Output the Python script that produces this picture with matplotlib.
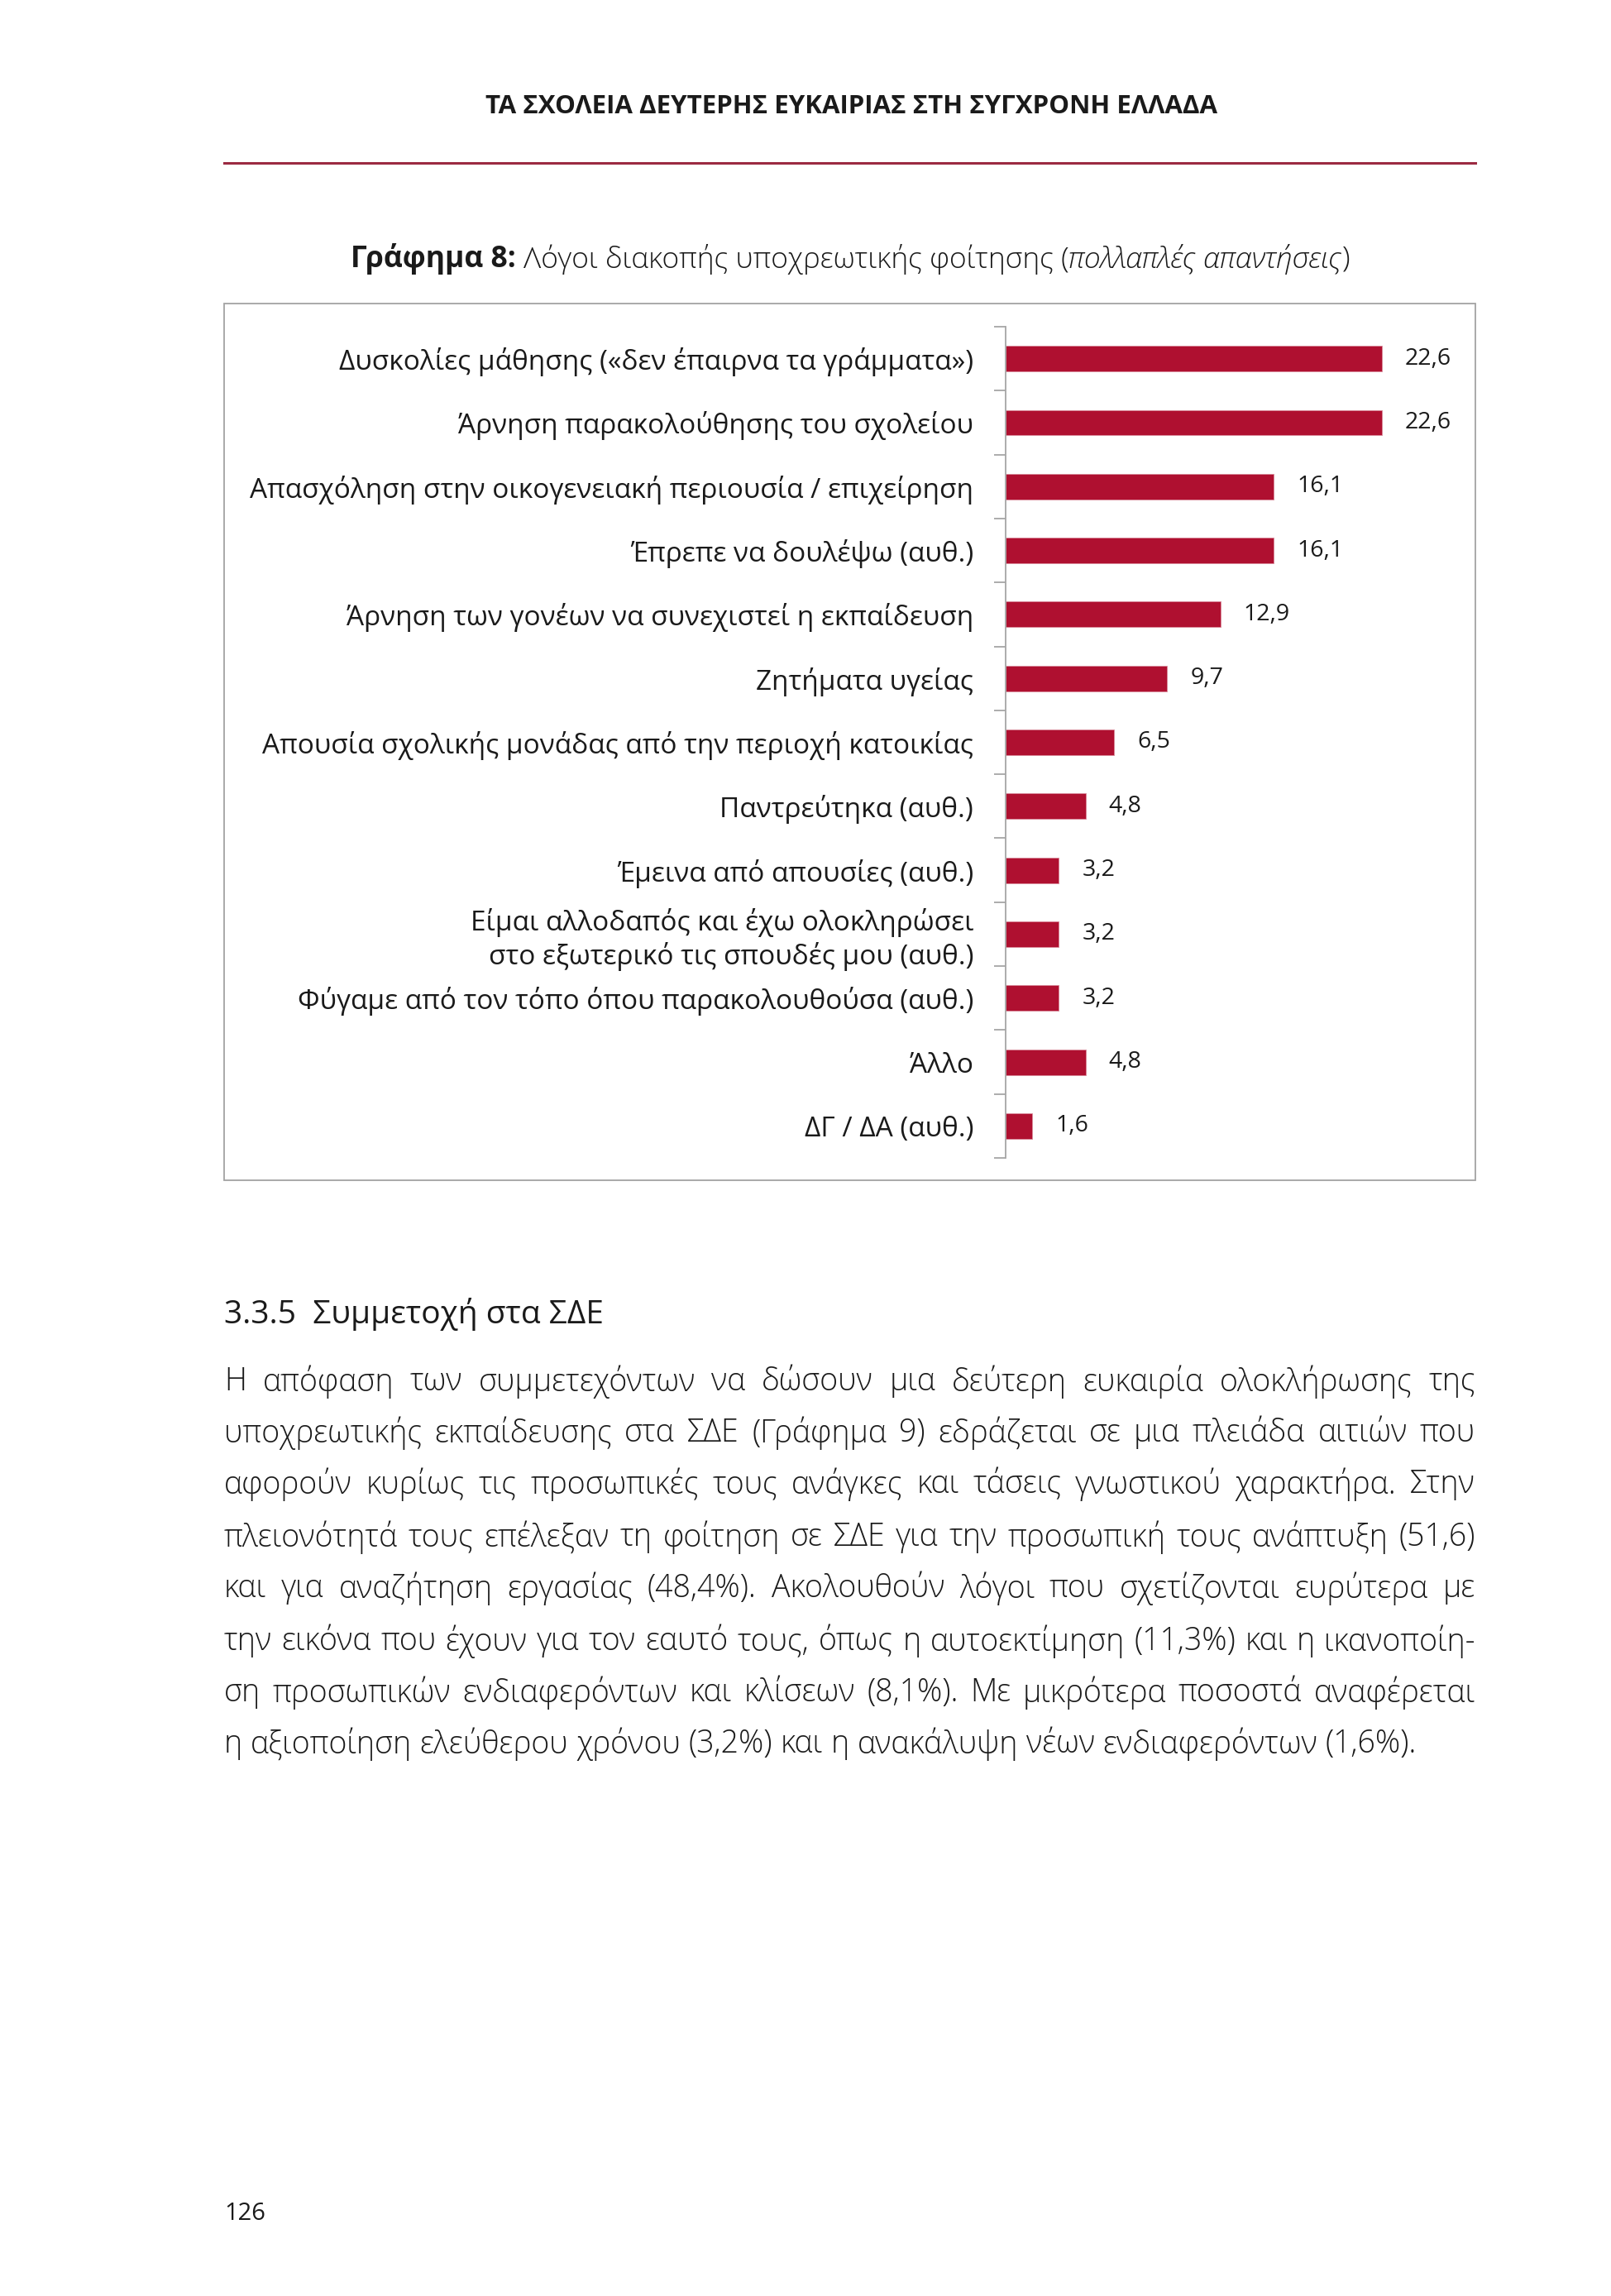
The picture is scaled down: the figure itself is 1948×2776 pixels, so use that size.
import matplotlib
matplotlib.use("Agg")
import numpy as np
import matplotlib.pyplot as plt
from matplotlib import font_manager
from matplotlib.patches import Rectangle
from matplotlib.lines import Line2D

# pick a family that really has bold and light faces
faces = {}
for f in font_manager.fontManager.ttflist:
    faces.setdefault(f.name, set()).add(f.weight if isinstance(f.weight, int) else 400)
main_font = "Open Sans" if "Open Sans" in faces else "Noto Sans"
bold_font = main_font if any(w >= 600 for w in faces.get(main_font, {400})) else "DejaVu Sans"
light_w = "light" if any(w <= 300 for w in faces.get(main_font, {400})) else "normal"

plt.rcParams['font.family'] = [main_font, 'Noto Sans', 'DejaVu Sans']

# data
reasons = [
    "Δυσκολίες μάθησης («δεν έπαιρνα τα γράμματα»)",
    "Άρνηση παρακολούθησης του σχολείου",
    "Απασχόληση στην οικογενειακή περιουσία / επιχείρηση",
    "Έπρεπε να δουλέψω (αυθ.)",
    "Άρνηση των γονέων να συνεχιστεί η εκπαίδευση",
    "Ζητήματα υγείας",
    "Απουσία σχολικής μονάδας από την περιοχή κατοικίας",
    "Παντρεύτηκα (αυθ.)",
    "Έμεινα από απουσίες (αυθ.)",
    "Είμαι αλλοδαπός και έχω ολοκληρώσει\nστο εξωτερικό τις σπουδές μου (αυθ.)",
    "Φύγαμε από τον τόπο όπου παρακολουθούσα (αυθ.)",
    "Άλλο",
    "ΔΓ / ΔΑ (αυθ.)",
]
percent = [22.6, 22.6, 16.1, 16.1, 12.9, 9.7, 6.5, 4.8, 3.2, 3.2, 3.2, 4.8, 1.6]

header = "ΤΑ ΣΧΟΛΕΙΑ ΔΕΥΤΕΡΗΣ ΕΥΚΑΙΡΙΑΣ ΣΤΗ ΣΥΓΧΡΟΝΗ ΕΛΛΑΔΑ"
title_parts = [("Γράφημα 8:", "bold", "normal"),
               ("Λόγοι διακοπής υποχρεωτικής φοίτησης (", light_w, "normal"),
               ("πολλαπλές απαντήσεις", light_w, "italic"),
               (")", light_w, "normal")]
section = "3.3.5  Συμμετοχή στα ΣΔΕ"
body_lines = [
    "Η απόφαση των συμμετεχόντων να δώσουν μια δεύτερη ευκαιρία ολοκλήρωσης της",
    "υποχρεωτικής εκπαίδευσης στα ΣΔΕ (Γράφημα 9) εδράζεται σε μια πλειάδα αιτιών που",
    "αφορούν κυρίως τις προσωπικές τους ανάγκες και τάσεις γνωστικού χαρακτήρα. Στην",
    "πλειονότητά τους επέλεξαν τη φοίτηση σε ΣΔΕ για την προσωπική τους ανάπτυξη (51,6)",
    "και για αναζήτηση εργασίας (48,4%). Ακολουθούν λόγοι που σχετίζονται ευρύτερα με",
    "την εικόνα που έχουν για τον εαυτό τους, όπως η αυτοεκτίμηση (11,3%) και η ικανοποίη-",
    "ση προσωπικών ενδιαφερόντων και κλίσεων (8,1%). Με μικρότερα ποσοστά αναφέρεται",
    "η αξιοποίηση ελεύθερου χρόνου (3,2%) και η ανακάλυψη νέων ενδιαφερόντων (1,6%).",
]
page_no = "126"

W, H = 1949, 2776
fig = plt.figure(figsize=(W / 100, H / 100), dpi=100)
fig.patch.set_facecolor("white")
renderer = fig.canvas.get_renderer()
ink = "#1a1a1a"


def fx(px):
    return px / W


def fy(py):
    return 1 - py / H


def width_px(t):
    return t.get_window_extent(renderer).width


# page header
fig.text(fx(1030), fy(129), header, ha="center", va="center",
         fontsize=22.5, fontweight="bold", family=[bold_font, "DejaVu Sans"], color=ink)
fig.lines.append(Line2D([fx(271), fx(1784)], [fy(197), fy(197)],
                        transform=fig.transFigure, color="#9B2A42", lw=2.2))

# title made of pieces (bold / light / italic)
tsize = 25.5
objs = []
for txt, wt, st in title_parts:
    fam = [bold_font, "DejaVu Sans"] if wt == "bold" else [main_font, "Noto Sans", "DejaVu Sans"]
    objs.append(fig.text(0, fy(313), txt, fontsize=tsize, fontweight=wt, family=fam,
                         fontstyle=st, va="center", ha="left", color=ink))
gap = 0.26 * tsize * 100 / 72
widths = [width_px(o) for o in objs]
gaps = [gap, 0, 0, 0]
total = sum(widths) + sum(gaps[:-1])
x = 1028 - total / 2
for o, w, g in zip(objs, widths, gaps):
    o.set_x(fx(x))
    x += w + g

# chart frame
fig.patches.append(Rectangle((fx(271), fy(1427)), fx(1784) - fx(271), (1427 - 367) / H,
                             transform=fig.transFigure, fill=False,
                             edgecolor="#a3a3a3", lw=1.3))

ax = fig.add_axes([fx(1216), fy(1400), fx(1784) - fx(1216), (1400 - 395) / H])
pos = np.arange(len(reasons))
ax.barh(pos, percent, height=0.40, color="#AF1030", edgecolor="#d98a9a", lw=0.6)
ax.set_ylim(len(reasons) - 0.5, -0.5)
ax.set_xlim(0, (1784 - 1216) / 20.13)
for i, v in enumerate(percent):
    ax.text(v + 1.4, i, f"{v:.1f}".replace(".", ","), va="center", ha="left",
            fontsize=20.5, color=ink)

ax.set_yticks(pos)
ax.set_yticklabels(reasons, fontsize=24, color=ink, linespacing=1.2)
ax.set_yticks(np.arange(-0.5, len(reasons), 1), minor=True)
ax.tick_params(axis="y", which="major", length=0, pad=28)
ax.tick_params(axis="y", which="minor", length=10, width=1.3, color="#a6a6a6")
ax.set_xticks([])
for s in ["top", "right", "bottom"]:
    ax.spines[s].set_visible(False)
ax.spines["left"].set_color("#a6a6a6")
ax.spines["left"].set_linewidth(1.3)
ax.set_facecolor("none")

# section heading
fig.text(fx(271), fy(1589), section, ha="left", va="center", fontsize=28, color=ink)

# justified body text
left, right = 271, 1784
line_y = [1671, 1733, 1795, 1859, 1921, 1985, 2047, 2109]
bsize = 28
while True:
    probe = [fig.text(0, 0, ln, fontsize=bsize, fontweight=light_w) for ln in body_lines]
    widest = max(width_px(p) for p in probe)
    for p in probe:
        p.remove()
    if widest <= (right - left) - 8 or bsize <= 16:
        break
    bsize -= 0.5

for k, (ln, yy) in enumerate(zip(body_lines, line_y)):
    words = ln.split(" ")
    tobjs = [fig.text(0, fy(yy), w, fontsize=bsize, fontweight=light_w, va="center",
                      ha="left", color=ink) for w in words]
    ws = [width_px(t) for t in tobjs]
    if k == len(body_lines) - 1:
        g = 0.26 * bsize * 100 / 72
    else:
        g = (right - left - sum(ws)) / (len(words) - 1)
    x = left
    for t, w in zip(tobjs, ws):
        t.set_x(fx(x))
        x += w + g

fig.text(fx(271), fy(2676), page_no, ha="left", va="center", fontsize=21, color=ink)

fig.savefig("out.png", dpi=100, facecolor="white")
